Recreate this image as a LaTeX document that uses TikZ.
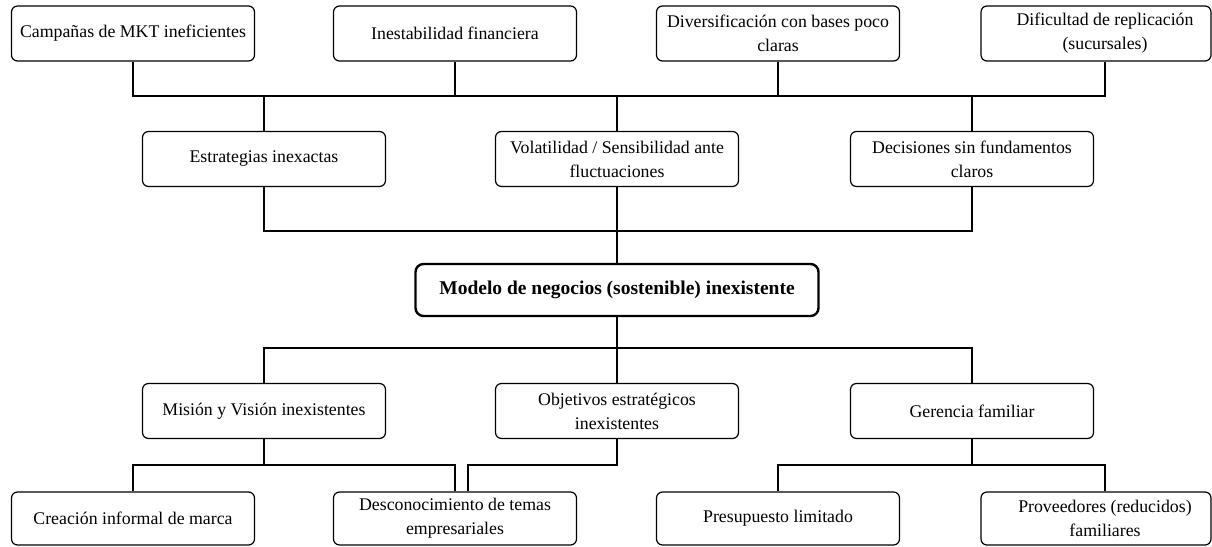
\documentclass[tikz,border=0pt]{standalone}
\usepackage{fontspec}
\setmainfont{Liberation Serif}
\usetikzlibrary{calc}
\begin{document}
\begin{tikzpicture}[x=1pt,y=-1pt,
  box/.style={draw=black, line width=1.2pt, rounded corners=6pt, minimum width=243pt, minimum height=55pt,
    align=center, inner sep=2pt, font=\fontsize{17.8}{24}\selectfont},
  rbox/.style={box, minimum width=230pt},
  mainbox/.style={draw=black, line width=2.4pt, rounded corners=8pt, minimum width=403pt, minimum height=52pt,
    align=center, font=\fontsize{19.5}{24}\selectfont\bfseries},
  conn/.style={draw=black, line width=1.2pt}]
\useasboundingbox (0,0) rectangle (1212,546);
\fill[white] (0,0) rectangle (1212,546);
% top row
\node[box] (A1) at (133,33.5) {Campañas de MKT ineficientes};
\node[box] (A2) at (455,33.5) {Inestabilidad financiera};
\node[box] (A3) at (778,33.5) {Diversificación con bases poco\\claras};
\node[rbox] (A4) at (1096,33.5) {\hspace*{18pt}Dificultad de replicación\\\hspace*{18pt}(sucursales)};
% second row
\node[box] (B1) at (264,159) {Estrategias inexactas};
\node[box] (B2) at (617,159) {Volatilidad / Sensibilidad ante\\fluctuaciones};
\node[box] (B3) at (972,159) {Decisiones sin fundamentos\\claros};
% central
\node[mainbox] (C) at (617,290) {Modelo de negocios (sostenible) inexistente};
% third row
\node[box] (M1) at (264,411) {Misión y Visión inexistentes};
\node[box] (M2) at (617,411) {Objetivos estratégicos\\inexistentes};
\node[box] (M3) at (972,411) {Gerencia familiar};
% bottom row
\node[box, minimum height=53pt] (L1) at (133,518.5) {Creación informal de marca};
\node[box, minimum height=53pt] (L2) at (455,518.5) {Desconocimiento de temas\\empresariales};
\node[box, minimum height=53pt] (L3) at (778,518.5) {Presupuesto limitado};
\node[rbox, minimum height=53pt] (L4) at (1096,518.5) {\hspace*{18pt}Proveedores (reducidos)\\\hspace*{18pt}familiares};
% bus coordinates
\coordinate (t4) at (1105,96);
\coordinate (mb) at (0,231);
\coordinate (lb) at (0,348);
\coordinate (bb) at (0,465);
% upper connectors
\draw[conn] (A1.south) |- (t4) -- (t4 |- A4.south);
\draw[conn] (A2.south) -- (A2.south |- t4);
\draw[conn] (A3.south) -- (A3.south |- t4);
\draw[conn] (B1.north) -- (B1.north |- t4);
\draw[conn] (B2.north) -- (B2.north |- t4);
\draw[conn] (B3.north) -- (B3.north |- t4);
\draw[conn] (B1.south) |- (B3.south |- mb) -- (B3.south);
\draw[conn] (B2.south) -- (B2.south |- C.north);
% lower connectors
\draw[conn] (C.south -| M2.north) -- (M2.north);
\draw[conn] (M1.north) |- (M3.north |- lb) -- (M3.north);
\draw[conn] (M1.south) -- (M1.south |- bb);
\draw[conn] (L1.north) |- (L2.north |- bb) -- (L2.north);
\draw[conn] (M2.south) |- ($(L2.north |- bb)+(13,0)$) -- ($(L2.north)+(13,0)$);
\draw[conn] (M3.south) -- (M3.south |- bb);
\draw[conn] (L3.north) |- (t4 |- bb) -- (t4 |- L4.north);
\end{tikzpicture}
\end{document}
